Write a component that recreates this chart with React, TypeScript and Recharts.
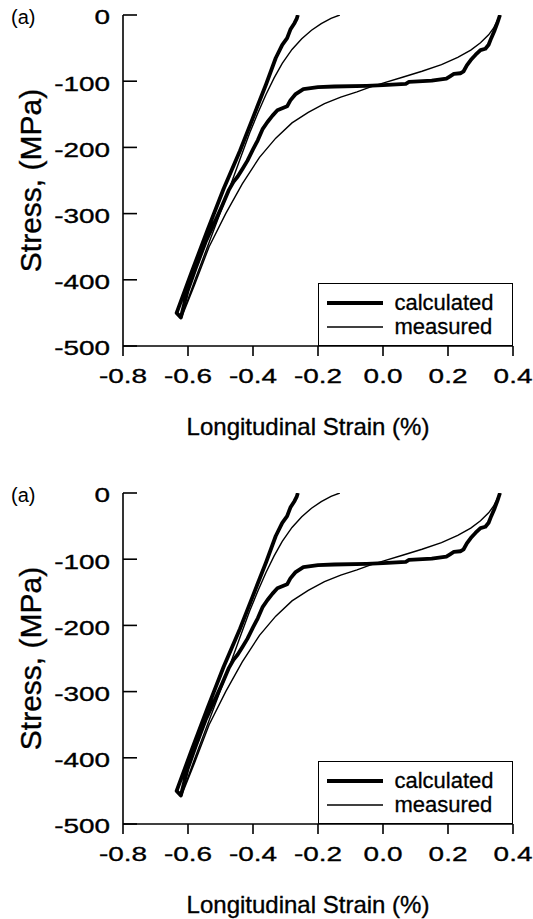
import React from 'react';
import { LineChart, Line, XAxis, YAxis, Legend } from 'recharts';

const FONT = '"Liberation Sans", Arial, Helvetica, sans-serif';

const xTicks = [-0.8, -0.6, -0.4, -0.2, 0.0, 0.2, 0.4];
const yTicks = [-500, -400, -300, -200, -100, 0];
const panelLabel = '(a)';
const xLabel = 'Longitudinal Strain (%)';
const yLabel = 'Stress, (MPa)';
const seriesNames = ['calculated', 'measured'];

// calculated (thick): loading from the right tip down to the compression tip, then unloading
const calculatedStrain = [
  0.36, 0.352, 0.342, 0.333, 0.325, 0.315, 0.3, 0.285, 0.27, 0.258, 0.248, 0.238, 0.218, 0.205, 0.195,
  0.15, 0.08, 0.07, 0.0, -0.05, -0.15, -0.2, -0.245, -0.27, -0.285, -0.295, -0.31, -0.325, -0.34, -0.356,
  -0.37, -0.385, -0.4, -0.417, -0.433, -0.447, -0.46, -0.475, -0.495, -0.515, -0.546, -0.576, -0.602,
  -0.622, -0.635,
  -0.59, -0.54, -0.49, -0.44, -0.4, -0.38, -0.36, -0.33, -0.31, -0.295, -0.285, -0.272, -0.265, -0.262,
];
const calculatedStress = [
  0, -12, -25, -35, -45, -51, -53, -60, -68, -76, -85, -88, -89, -93, -96,
  -99, -101, -104, -106, -107, -108, -109, -112, -120, -129, -138, -141, -144, -152, -162,
  -172, -189, -203, -220, -233, -244, -252, -265, -288, -310, -343, -382, -418,
  -457, -450,
  -390, -325, -262, -205, -155, -130, -105, -65, -45, -35, -22, -12, -5, 0,
];

// measured (thin)
const measuredStrain = [
  0.36, 0.35, 0.34, 0.325, 0.3, 0.27, 0.23, 0.18, 0.12, 0.06, 0.0, -0.04, -0.08, -0.13, -0.18, -0.23,
  -0.28, -0.33, -0.38, -0.433, -0.484, -0.535, -0.58, -0.62,
  -0.58, -0.53, -0.48, -0.44, -0.41, -0.385, -0.36, -0.335, -0.31, -0.28, -0.25, -0.22, -0.19, -0.16, -0.133,
];
const measuredStress = [
  0, -10, -20, -30, -42, -53, -64, -75, -85, -94, -103, -109, -116, -124, -134, -147,
  -163, -186, -215, -255, -300, -350, -408, -457,
  -402, -337, -272, -218, -178, -148, -120, -95, -73, -52, -36, -23, -13, -5, 0,
];

const toPoints = (xs: number[], ys: number[]) => xs.map((x, i) => ({ x, y: ys[i] }));
const calculatedData = toPoints(calculatedStrain, calculatedStress);
const measuredData = toPoints(measuredStrain, measuredStress);

const AXIS = { stroke: '#000', strokeWidth: 1.6 };
const TEXT_STROKE = { stroke: '#000', strokeWidth: 0.35 };

const XTick = (props: any) => {
  const { x, y, payload } = props;
  return (
    <text
      transform={`translate(${x},${y}) scale(1.33,1)`}
      textAnchor="middle"
      dy="0.71em"
      fontSize={21}
      fontFamily={FONT}
      fill="#000"
      {...TEXT_STROKE}
    >
      {Number(payload.value).toFixed(1)}
    </text>
  );
};

const YTick = (props: any) => {
  const { x, y, payload } = props;
  return (
    <g>
      <line x1={x + 13} x2={x + 27} y1={y} y2={y} stroke="#000" strokeWidth={1.6} />
      <text
        transform={`translate(${x},${y}) scale(1.33,1)`}
        textAnchor="end"
        dy="0.45em"
        fontSize={21}
        fontFamily={FONT}
        fill="#000"
        {...TEXT_STROKE}
      >
        {String(payload.value)}
      </text>
    </g>
  );
};

const YLabelContent = (props: any) => {
  const { x, y, height } = props.viewBox;
  return (
    <text
      transform={`translate(${x + 30},${y + height / 2}) rotate(-90)`}
      textAnchor="middle"
      dy="0.36em"
      fontSize={30}
      fontFamily={FONT}
      fill="#000"
      {...TEXT_STROKE}
    >
      {yLabel}
    </text>
  );
};

const XLabelContent = (props: any) => {
  const { x, y, width, height } = props.viewBox;
  return (
    <text
      x={x + width / 2 - 10}
      y={y + height - 11}
      textAnchor="middle"
      fontSize={24}
      fontFamily={FONT}
      fill="#000"
      {...TEXT_STROKE}
    >
      {xLabel}
    </text>
  );
};

const LegendBox = (props: any) => {
  const payload = props.payload || [];
  return (
    <div
      style={{
        boxSizing: 'border-box',
        width: 195,
        height: 63,
        border: '1.5px solid #000',
        background: '#fff',
        padding: '7px 0 0 7.5px',
        fontFamily: FONT,
        fontSize: 22,
        color: '#000',
      }}
    >
      {payload.map((entry: any, i: number) => (
        <div key={i} style={{ display: 'flex', alignItems: 'center', height: 24 }}>
          <svg width={56} height={24} style={{ display: 'block' }}>
            <line
              x1={0}
              x2={56}
              y1={12}
              y2={12}
              stroke="#000"
              strokeWidth={(entry.payload && entry.payload.strokeWidth) || 1.3}
            />
          </svg>
          <span style={{ marginLeft: 12, lineHeight: '24px', WebkitTextStroke: '0.3px #000' }}>
            {entry.value}
          </span>
        </div>
      ))}
    </div>
  );
};

function Panel() {
  return (
    <div style={{ position: 'relative', width: 533, height: 478 }}>
      <LineChart width={533} height={478} margin={{ top: 15, right: 20, bottom: 32, left: 0 }}>
        <XAxis
          dataKey="x"
          type="number"
          domain={[-0.8, 0.4]}
          ticks={xTicks}
          allowDataOverflow
          height={100}
          tickSize={10}
          tickMargin={12}
          axisLine={AXIS}
          tickLine={{ stroke: '#000', strokeWidth: 1.6 }}
          tick={<XTick />}
          label={XLabelContent}
        />
        <XAxis
          xAxisId="top"
          orientation="top"
          type="number"
          domain={[-0.8, 0.4]}
          height={0}
          tick={false}
          tickLine={false}
          axisLine={AXIS}
        />
        <YAxis
          dataKey="y"
          type="number"
          domain={[-500, 0]}
          ticks={yTicks}
          allowDataOverflow
          width={123}
          tickSize={0}
          tickMargin={13}
          axisLine={AXIS}
          tickLine={false}
          tick={<YTick />}
          label={YLabelContent}
        />
        <YAxis
          yAxisId="right"
          orientation="right"
          type="number"
          domain={[-500, 0]}
          width={0}
          tick={false}
          tickLine={false}
          axisLine={AXIS}
        />
        <Line
          data={calculatedData}
          dataKey="y"
          name={seriesNames[0]}
          type="linear"
          stroke="#000"
          strokeWidth={3.8}
          dot={false}
          activeDot={false}
          isAnimationActive={false}
          strokeLinejoin="round"
        />
        <Line
          data={measuredData}
          dataKey="y"
          name={seriesNames[1]}
          type="linear"
          stroke="#000"
          strokeWidth={1.4}
          dot={false}
          activeDot={false}
          isAnimationActive={false}
        />
        <Legend
          layout="horizontal"
          verticalAlign="middle"
          align="center"
          width={195}
          height={63}
          wrapperStyle={{ left: 318, top: 283, width: 195, height: 63 }}
          content={LegendBox}
        />
      </LineChart>
      <svg width={60} height={40} style={{ position: 'absolute', left: 0, top: 0 }}>
        <text x={11} y={24} fontSize={20} fontFamily={FONT} fill="#000">
          {panelLabel}
        </text>
      </svg>
    </div>
  );
}

export default function App() {
  return (
    <div style={{ position: 'absolute', left: 0, top: 0, width: 533, height: 919, background: '#fff' }}>
      <Panel />
      <Panel />
    </div>
  );
}
